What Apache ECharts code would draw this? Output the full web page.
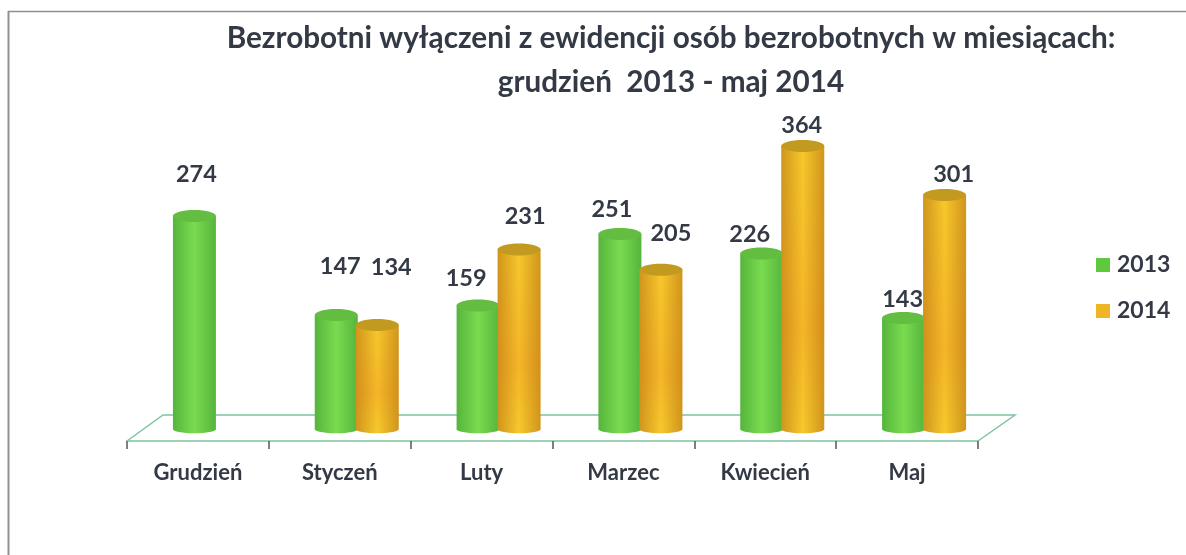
<!DOCTYPE html>
<html>
<head>
<meta charset="utf-8">
<title>Bezrobotni</title>
<script src="https://cdn.jsdelivr.net/npm/echarts@6/dist/echarts.min.js"></script>
<style>
	html, body { margin: 0; padding: 0; background: #fff; }
	#chart { width: 1186px; height: 555px; }
</style>
</head>
<body>
<div id="chart"></div>
<script>
var months = ["Grudzień", "Styczeń", "Luty", "Marzec", "Kwiecień", "Maj"];
var values2013 = [274, 147, 159, 251, 226, 143];
var values2014 = [null, 134, 231, 205, 364, 301];

// przesuniecia etykiet wzgledem szczytu slupka (recznie ustawione w oryginale)
var labelShift2013 = [[2, -43], [4, -49], [-12, -28], [-8, -26], [-12, -20], [-1, -20]];
var labelShift2014 = [null, [14, -59], [6, -34], [10, -37], [-1, -22], [9, -22]];

var textColor = "#333a45";
var font = "Lato, 'Open Sans', sans-serif";

function sideGradient(edge, mid) {
	return new echarts.graphic.LinearGradient(0, 0, 1, 0, [
		{ offset: 0, color: edge },
		{ offset: 0.5, color: mid },
		{ offset: 1, color: edge }
	]);
}

// slupek-walec: korpus, dolna elipsa, gorna elipsa i etykieta
function cylinder(dx, edge, mid, cap, tint, shifts) {
	return function(params, api) {
		var value = api.value(1);
		var idx = api.value(0);
		var top = api.coord([idx, value]);
		var base = api.coord([idx, 0]);
		var cx = top[0] + dx;
		var rx = 21.5;
		var fill = sideGradient(edge, mid);
		var shift = shifts[idx];
		var children = [
			{ type: "ellipse", shape: { cx: cx, cy: base[1], rx: rx, ry: 4 }, style: { fill: fill } },
			{ type: "rect", shape: { x: cx - rx, y: top[1], width: rx * 2, height: base[1] - top[1] }, style: { fill: fill } }
		];
		// rudawy odcien w srodku zoltych slupkow
		if (tint) {
			children.push({
				type: "rect",
				shape: { x: cx - rx, y: top[1], width: rx * 2, height: base[1] - top[1] },
				style: {
					fill: new echarts.graphic.LinearGradient(0, 0, 0, 1, [
						{ offset: 0, color: "rgba(232,112,26,0)" },
						{ offset: 0.65, color: tint },
						{ offset: 1, color: "rgba(232,112,26,0)" }
					])
				}
			});
		}
		children.push({ type: "ellipse", shape: { cx: cx, cy: top[1], rx: rx, ry: 6 }, style: { fill: cap } });
		children.push({
			type: "text",
			x: cx + shift[0],
			y: top[1] + shift[1] + 1,
			style: {
				text: String(value),
				align: "center",
				verticalAlign: "middle",
				fill: textColor,
				font: "bold 23.5px " + font
			}
		});
		return { type: "group", children: children };
	};
}

function floorItem(params, api) {
	var c = params.coordSys;
	var bottom = c.y + c.height;
	return {
		type: "polyline",
		shape: {
			points: [
				[c.x, bottom],
				[c.x + 36, bottom - 26],
				[c.x + c.width + 37, bottom - 26],
				[c.x + c.width, bottom]
			]
		},
		style: { fill: "none", stroke: "#7fc4a0", lineWidth: 1.5 }
	};
}

function toData(values) {
	var out = [];
	for (var i = 0; i < values.length; i++) {
		if (values[i] != null) {
			out.push([i, values[i]]);
		}
	}
	return out;
}

var myChart = echarts.init(document.getElementById("chart"));

myChart.setOption({
	backgroundColor: "#fff",
	animation: false,
	title: {
		text: "Bezrobotni wyłączeni z ewidencji osób bezrobotnych w miesiącach:\ngrudzień  2013 - maj 2014",
		left: 666,
		top: 11,
		textAlign: "center",
		textStyle: {
			fontFamily: font,
			fontWeight: "bold",
			fontSize: 29.7,
			lineHeight: 44,
			color: textColor
		}
	},
	legend: {
		data: ["2013", "2014"],
		orient: "vertical",
		left: 1096,
		top: 251,
		padding: 0,
		icon: "rect",
		itemWidth: 14,
		itemHeight: 14,
		itemGap: 18,
		textStyle: { fontFamily: font, fontWeight: "bold", fontSize: 23, lineHeight: 28, color: textColor, padding: [0, 0, 0, 2] }
	},
	grid: { left: 127, width: 851, top: 118, height: 323 },
	xAxis: {
		type: "category",
		data: months,
		axisLine: { onZero: false, lineStyle: { color: "#7fc4a0", width: 1.5 } },
		axisTick: { show: true, length: 8, lineStyle: { color: "#555", width: 1.5 } },
		axisLabel: { fontFamily: font, fontWeight: "bold", fontSize: 22, color: textColor, margin: 21 }
	},
	yAxis: {
		type: "value",
		min: -15,
		max: 400,
		show: false
	},
	series: [
		{
			name: "floor",
			type: "custom",
			data: [[0, 0]],
			renderItem: floorItem,
			silent: true,
			z: 1
		},
		{
			name: "2013",
			type: "custom",
			data: toData(values2013),
			encode: { x: 0, y: 1 },
			clip: false,
			itemStyle: { color: "#5ec93e" },
			renderItem: cylinder(-3.5, "#55b53c", "#7adb50", "#62bd41", null, labelShift2013),
			z: 2
		},
		{
			name: "2014",
			type: "custom",
			data: toData(values2014),
			encode: { x: 0, y: 1 },
			clip: false,
			itemStyle: { color: "#eeb526" },
			renderItem: cylinder(37.5, "#cf961c", "#f7c82c", "#c39a20", "rgba(232,112,26,0.2)", labelShift2014),
			z: 3
		}
	],
	graphic: [
		{ type: "line", shape: { x1: 8, y1: 11.5, x2: 1186, y2: 11.5 }, style: { stroke: "#8a8f96", lineWidth: 1.5 } },
		{ type: "line", shape: { x1: 8.5, y1: 11, x2: 8.5, y2: 555 }, style: { stroke: "#8f9198", lineWidth: 2 } }
	]
});
</script>
</body>
</html>
